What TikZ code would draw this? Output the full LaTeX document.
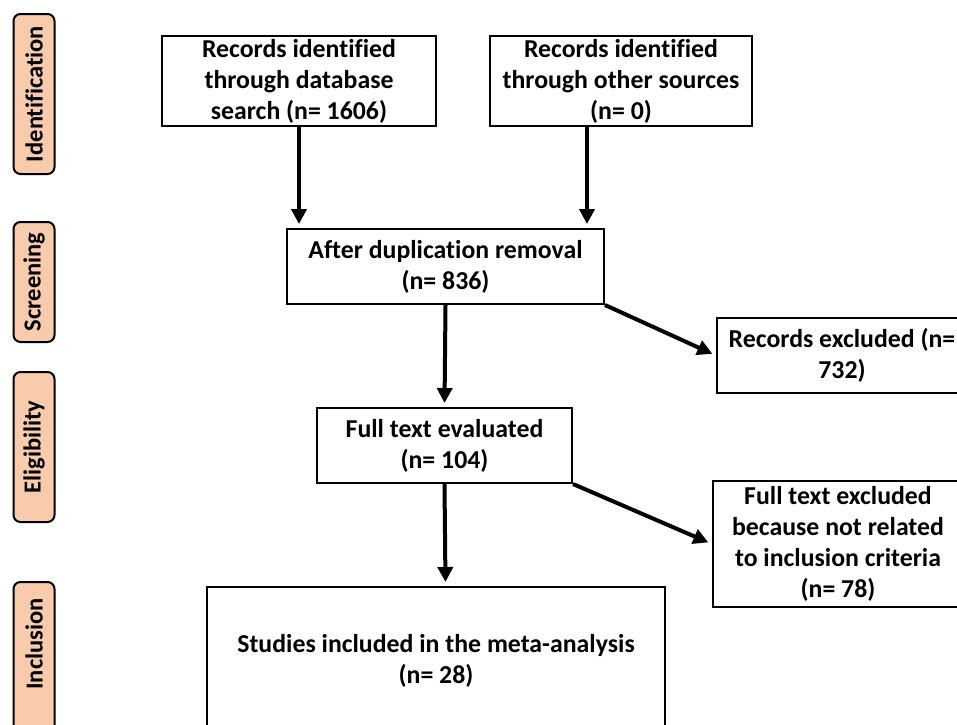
\documentclass[tikz,border=0pt]{standalone}
\usepackage{fontspec}
\setmainfont{Carlito}[Ligatures=CommonOff]
\usetikzlibrary{arrows.meta,calc}
\definecolor{peach}{RGB}{248,203,173}

\begin{document}
\begin{tikzpicture}[x=1pt, y=-1pt, line width=2pt,
    font=\bfseries\fontsize{25.8}{31}\selectfont,
    box/.style = {draw, align=center, inner sep=0pt},
    stage/.style = {draw, fill=peach, rounded corners=7pt, rotate=90, inner sep=0pt, minimum height=41,
      font=\bfseries\fontsize{24.5}{31}\selectfont},
    arr/.style = {line width=4pt, -{Triangle[width=15pt,length=15pt]}, shorten >=4pt}]
    \useasboundingbox (0,0) rectangle (957,724);
    \clip (0,0) rectangle (957,724);
    % stages
    \node[stage, minimum width=160] (ident) at (34,94) {Identification};
    \node[stage, minimum width=120] (screen) at (34,282) {Screening};
    \node[stage, minimum width=150] (elig) at (34,447) {Eligibility};
    \node[stage, minimum width=180] (incl) at (34,672) {\hspace*{56pt}Inclusion};
    % boxes
    \node[box, minimum width=274, minimum height=90] (db) at (299,81) {Records identified\\through database\\search (n= 1606)};
    \node[box, minimum width=262, minimum height=90] (other) at (621,81) {Records identified\\through other sources\\(n= 0)};
    \node[box, minimum width=317, minimum height=75] (dup) at (445.5,266.5) {After duplication removal\\(n= 836)};
    \node[box, minimum width=250, minimum height=75] (recex) at (842,355.5) {Records excluded (n=\\732)};
    \node[box, minimum width=255, minimum height=75] (full) at (444.5,445.5) {Full text evaluated\\(n= 104)};
    \node[box, minimum width=250, minimum height=126] (fullex) at (838,544) {Full text excluded\\because not related\\to inclusion criteria\\(n= 78)};
    \node[box, minimum width=458, minimum height=148] (incs) at (436,661) {Studies included in the meta-analysis\\(n= 28)};
    % arrows
    \draw[arr] (db.south) -- (db.south |- dup.north);
    \draw[arr] ($(other.south)+(-34,0)$) -- ($(other.south |- dup.north)+(-34,0)$);
    \draw[arr] (dup.south) -- (full.north);
    \draw[arr] (dup.south east) -- (recex.west);
    \draw[arr] (full.south) -- ($(full.south |- incs.north)+(1,0)$);
    \draw[arr] (full.south east) -- (fullex.west);
\end{tikzpicture}
\end{document}
